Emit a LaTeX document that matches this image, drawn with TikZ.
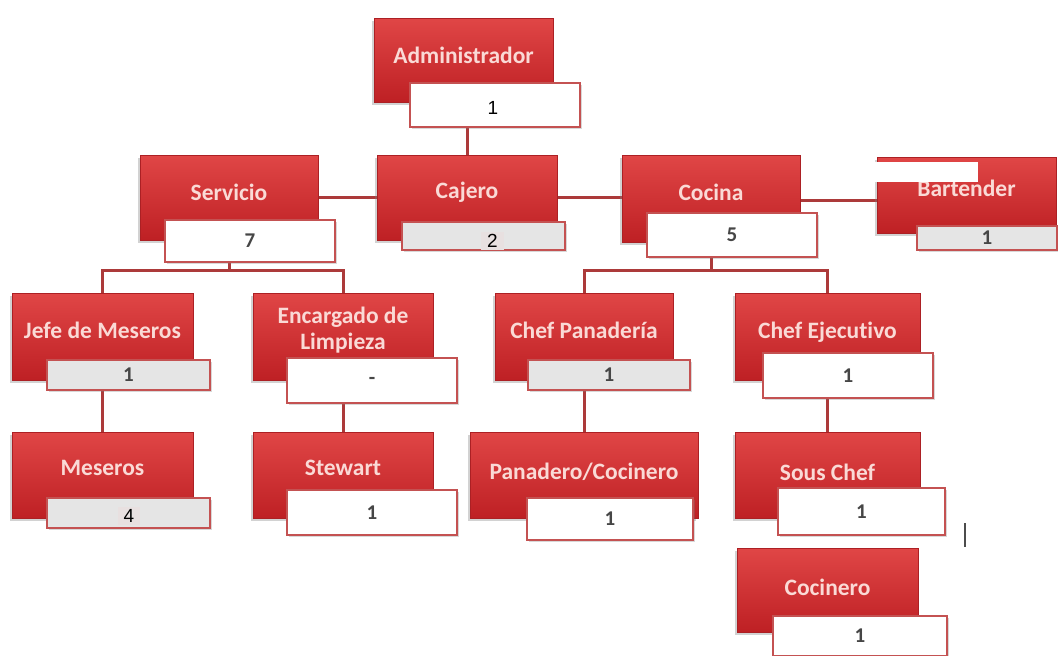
\documentclass[tikz,border=0pt]{standalone}
\usepackage{fontspec}
\setmainfont{Carlito}[Ligatures=NoCommon]
\newfontfamily\numfont{Liberation Sans}
\usetikzlibrary{shadows,calc}
\definecolor{rtop}{RGB}{224,70,70}
\definecolor{rbot}{RGB}{190,32,36}
\definecolor{redge}{RGB}{172,32,36}
\definecolor{rtext}{RGB}{250,218,214}
\definecolor{wedge}{RGB}{196,82,82}
\definecolor{connc}{RGB}{172,58,58}
\definecolor{numcol}{RGB}{70,70,70}
\definecolor{gfill}{RGB}{229,229,229}
\definecolor{patch}{RGB}{232,224,224}
\pgfdeclarelayer{bg}
\pgfsetlayers{bg,main}
\tikzset{
  rbox/.style 2 args={draw=redge, line width=0.6pt, top color=rtop, bottom color=rbot,
    drop shadow={shadow xshift=-2pt,shadow yshift=-3pt,opacity=0.35},
    minimum width=#1, minimum height=#2, inner sep=0pt},
  wbox/.style 2 args={draw=wedge, line width=1.6pt, fill=white,
    drop shadow={shadow xshift=1.5pt,shadow yshift=-1.5pt,opacity=0.3},
    minimum width=#1, minimum height=#2, inner sep=0pt,
    text=numcol, font=\bfseries\fontsize{21}{23}\selectfont},
  gbox/.style 2 args={wbox={#1}{#2}, fill=gfill},
  rlabel/.style={text=rtext, font=\bfseries\fontsize{23.5}{26}\selectfont, align=center, inner sep=0pt},
  olabel/.style={text=black, font=\numfont\fontsize{19}{21}\selectfont, fill=patch, inner xsep=6pt, inner ysep=2pt},
  connline/.style={draw=connc, line width=3pt},
}
\begin{document}
\begin{tikzpicture}[x=1pt,y=-1pt]
\begin{pgfonlayer}{bg}
\fill[white] (0,0) rectangle (1058,656);
\end{pgfonlayer}
\useasboundingbox (0,0) rectangle (1058,656);

% red boxes
\node[rbox={179pt}{84pt}] (admin) at (463.5,60) {};
\node[rbox={178pt}{85pt}] (servicio) at (229,197.5) {};
\node[rbox={180pt}{85pt}] (cajero) at (467,197.5) {};
\node[rbox={178pt}{87pt}] (cocina) at (711,198.5) {};
\node[rbox={179pt}{76pt}] (bart) at (966.5,195) {};
\node[rbox={181pt}{87pt}] (jefe) at (102.5,336.5) {};
\node[rbox={180pt}{87pt}] (limp) at (343,336.5) {};
\node[rbox={178pt}{87pt}] (chefp) at (584,336.5) {};
\node[rbox={185pt}{87pt}] (chefe) at (827.5,336.5) {};
\node[rbox={181pt}{86pt}] (meseros) at (102.5,475) {};
\node[rbox={180pt}{86pt}] (stewart) at (343,475) {};
\node[rbox={228pt}{86pt}] (panadero) at (584,475) {};
\node[rbox={185pt}{86pt}] (sous) at (827.5,475) {};
\node[rbox={181pt}{84pt}] (cocinero) at (827.5,590) {};

% labels in red boxes
\node[rlabel] (adminT) at ([yshift=5pt]admin.center) {Administrador};
\node[rlabel] (servicioT) at ([yshift=5pt]servicio.center) {Servicio};
\node[rlabel] (cajeroT) at ([yshift=5pt]cajero.center) {Cajero};
\node[rlabel] (cocinaT) at ([yshift=6pt]cocina.center) {Cocina};
\node[rlabel] (bartT) at ([yshift=7pt]bart.center) {Bartender};
\node[rlabel] (jefeT) at ([yshift=6pt]jefe.center) {Jefe de Meseros};
\node[rlabel] (limpT) at ([yshift=6pt]limp.center) {Encargado de\\Limpieza};
\node[rlabel] (chefpT) at ([yshift=6pt]chefp.center) {Chef Panadería};
\node[rlabel] (chefeT) at ([yshift=4pt]chefe.center) {Chef Ejecutivo};
\node[rlabel] (meserosT) at ([yshift=7pt]meseros.center) {Meseros};
\node[rlabel] (stewartT) at ([yshift=7pt]stewart.center) {Stewart};
\node[rlabel] (panaderoT) at ([yshift=3pt]panadero.center) {Panadero/Cocinero};
\node[rlabel] (sousT) at ([yshift=3pt]sous.center) {Sous Chef};
\node[rlabel] (cocineroT) at ([yshift=3pt]cocinero.center) {Cocinero};

% number boxes
\node[wbox={170pt}{44pt}] (adminN) at (495,105) {};
\node[wbox={170pt}{42pt}] (servicioN) at (250,241) {7};
\node[gbox={163pt}{28pt}] (cajeroN) at (483.5,236) {};
\node[wbox={170pt}{44pt}] (cocinaN) at (732,235) {5};
\node[gbox={140pt}{24pt}] (bartN) at (987,238) {1};
\node[gbox={163pt}{30pt}] (jefeN) at (128.5,375) {1};
\node[wbox={170pt}{45pt}] (limpN) at (372,380.5) {-};
\node[gbox={163pt}{30pt}] (meserosN) at (128.5,513) {};
\node[wbox={170pt}{45pt}] (stewartN) at (372,512.5) {1};
\node[gbox={162pt}{30pt}] (chefpN) at (609,375) {1};
\node[wbox={170pt}{45pt}] (chefeN) at (848,375.5) {1};
\node[wbox={166pt}{42pt}] (panaderoN) at (610,519) {1};
\node[wbox={167pt}{47pt}] (sousN) at (861.5,511.5) {1};
\node[wbox={174pt}{40pt}] (cocineroN) at (860,636) {1};

% overlaid numbers
\node[text=black, font=\numfont\fontsize{19}{21}\selectfont, inner sep=0pt] (adminNum) at (493,108) {1};
\node[olabel] (cajeroNum) at (492.5,241) {2};
\node[olabel] (meserosNum) at (129,516) {4};

% connectors
\begin{pgfonlayer}{bg}
\draw[connline] (servicio.east) -- (cajero.west);
\draw[connline] (cajero.east) -- (cajero.east -| cocina.west);
\draw[connline] ([yshift=-2pt]cocina.east) -- ([yshift=-2pt]cocina.east -| bart.west);
\draw[connline] (adminN.south -| cajero.north) -- (cajero.north);
\draw[connline] (servicioN.south -| servicio.center) -- ++(0,8) -| (jefe.north);
\draw[connline] (servicioN.south -| servicio.center) -- ++(0,8) -| (limp.north);
\draw[connline] (cocinaN.south -| cocina.center) -- ++(0,13) -| (chefp.north);
\draw[connline] (cocinaN.south -| cocina.center) -- ++(0,13) -| (chefe.north);
\draw[connline] (jefeN.south -| jefe.center) -- (meseros.north);
\draw[connline] (limpN.south -| limp.center) -- (stewart.north);
\draw[connline] (chefpN.south -| chefp.center) -- (panadero.north);
\draw[connline] (chefeN.south -| chefe.center) -- (sous.north);
\end{pgfonlayer}

% white patch over Bartender box and stray mark
\fill[white] (868,162) rectangle (978,182);
\draw[gray!60!black, line width=2pt] (965,523) -- (965,547);
\end{tikzpicture}
\end{document}
